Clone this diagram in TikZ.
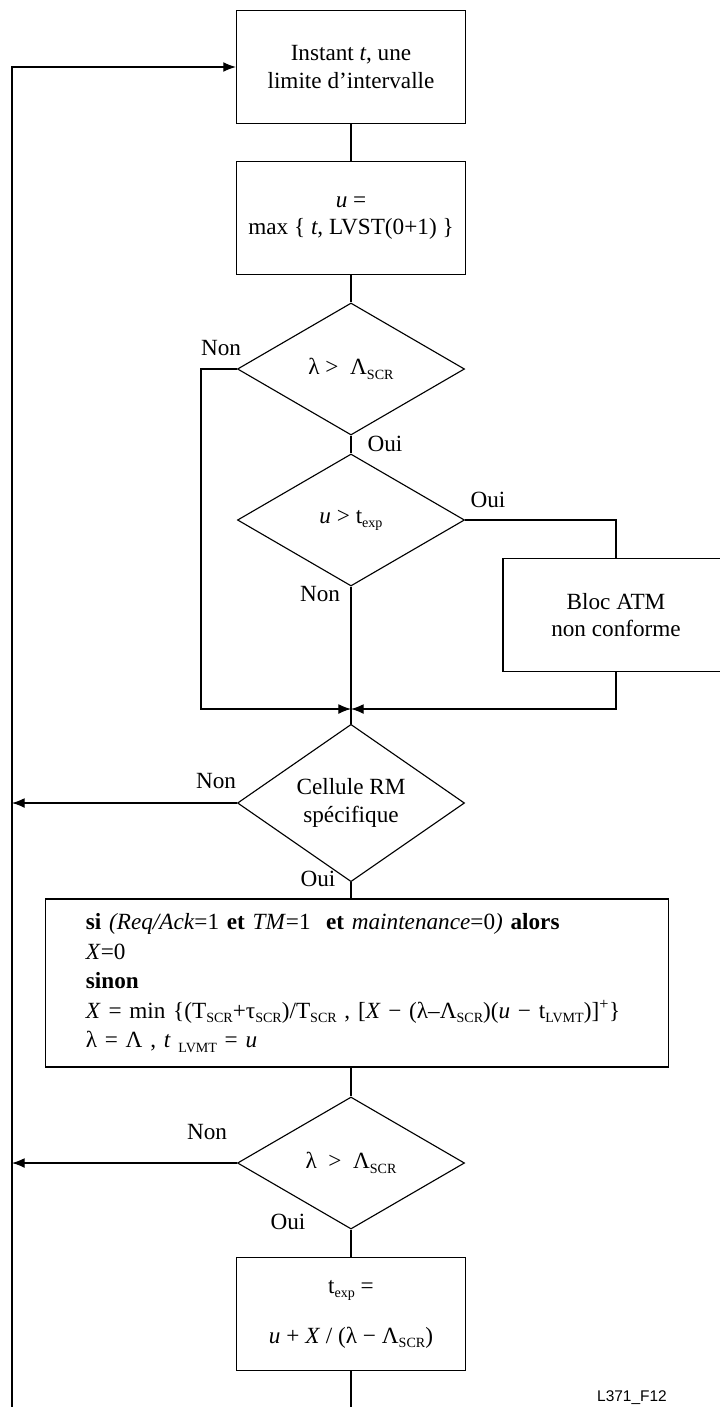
\documentclass[tikz,border=0pt]{standalone}
\usepackage{fontspec}
\setmainfont{Liberation Serif}
\newfontfamily\figfont{Liberation Sans}
\usetikzlibrary{shapes.geometric,arrows.meta}

\newcommand{\sbs}[1]{\raisebox{-0.4ex}{\fontsize{10}{10}\selectfont #1}}

\begin{document}
\begin{tikzpicture}[
    x=0.025cm, y=-0.025cm,
    font=\fontsize{16.5}{19.5}\selectfont,
    line width=0.8pt,
    block/.style={rectangle, draw, minimum width=5.725cm, minimum height=2.825cm, align=center, inner sep=0pt},
    test/.style={diamond, draw, minimum width=5.675cm, minimum height=3.3cm, align=center, inner sep=0pt},
    lbl/.style={inner sep=1pt},
    arr/.style={-{Latex[length=9pt,width=7pt]}}
]
    \useasboundingbox (0,0) rectangle (720,1407);

    % Blocks and tests
    \node[block] (instant) at (351,67) {Instant \textit{t}, une\\limite d'intervalle};
    \node[block] (umax) at (351,218) {\textit{u} =\\max \{ \textit{t}, LVST(0+1) \}};
    \node[test] (lam1) at (351,369) {λ >\ \ Λ\sbs{SCR}};
    \node[test] (uexp) at (351,520) {\textit{u} > t\sbs{exp}};
    \node[block, minimum width=5.65cm] (bloc) at (616,615) {Bloc ATM\\non conforme};
    \node[test] (cellule) at (351,803) {Cellule RM\\spécifique};
    \node[rectangle, draw, minimum width=15.55cm, minimum height=4.2cm, text width=13.55cm, align=left,
          font=\fontsize{16.5}{21}\selectfont] (maj) at (357,983) {
        \textbf{si} \textit{(Req/Ack}=1 \textbf{et} \textit{TM}=1\ \ \textbf{et} \textit{maintenance}=0\textit{)} \textbf{alors}\\
        \textit{X}=0\\
        \textbf{sinon}\\
        \textit{X} = min \{(T\sbs{SCR}+τ\sbs{SCR})/T\sbs{SCR} , [\textit{X} − (λ–Λ\sbs{SCR})(\textit{u} − t\sbs{LVMT})]\textsuperscript{+}\}\\
        λ = Λ , \textit{t} \sbs{LVMT} = \textit{u}
    };
    \node[test] (lam2) at (351,1163) {λ\ \ >\ \ Λ\sbs{SCR}};
    \node[block] (texp) at (351,1314) {t\sbs{exp} =\\[16pt]\textit{u} + \textit{X} / (λ − Λ\sbs{SCR})};

    % Branch labels
    \node[lbl] (non1) at (221,348) {Non};
    \node[lbl] (oui1) at (385,444) {Oui};
    \node[lbl] (oui2) at (488,500) {Oui};
    \node[lbl] (non2) at (320,594) {Non};
    \node[lbl] (non3) at (216,781) {Non};
    \node[lbl] (oui3) at (318,879) {Oui};
    \node[lbl] (non4) at (207,1132) {Non};
    \node[lbl] (oui4) at (288,1222) {Oui};
    \node[font=\figfont\fontsize{11}{13}\selectfont, anchor=south, inner sep=0pt] (ref) at (632,1405) {L371\_F12};

    % Connectors
    \coordinate (join) at (351,709);
    \coordinate (nonleft) at (201,709);
    \coordinate (loopbot) at (12,1407);
    \coordinate (outbot) at (351,1407);

    \draw (instant) -- (umax);
    \draw (umax) -- (lam1);
    \draw (lam1) -- (uexp);
    \draw (uexp.east) -| (bloc.north);
    \draw (uexp.south) -- (join) -- (cellule.north);
    \draw[arr] (lam1.west) -| (nonleft) -- (join);
    \draw[arr] (bloc.south) |- (join);
    \draw[arr] (cellule.west) -- (cellule.west -| loopbot);
    \draw (cellule.south) -- (cellule.south |- maj.north);
    \draw (lam2.north |- maj.south) -- (lam2.north);
    \draw[arr] (lam2.west) -- (lam2.west -| loopbot);
    \draw (lam2) -- (texp);
    \draw (texp) -- (outbot);
    \draw[arr] (loopbot) |- (instant.west);

\end{tikzpicture}
\end{document}
